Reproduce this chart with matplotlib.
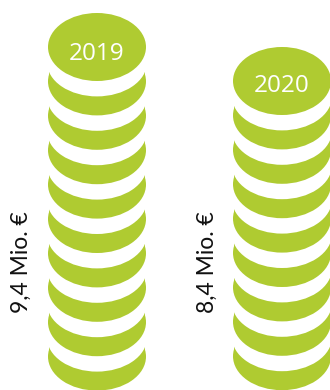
import matplotlib.pyplot as plt
from matplotlib.patches import Ellipse, Rectangle

plt.rcParams["font.family"] = ["Lato", "DejaVu Sans"]

years = ["2019", "2020"]
values = ["9,4 Mio. €", "8,4 Mio. €"]
coins = [10, 9]

green = "#afcb31"
centers = [97, 282]
tops = [47, 81]
year_y = [54, 85.5]
label_x = [21.5, 207]
step = 34.4  # distance between two coins
rx, ry = 49, 34

fig = plt.figure(figsize=(3.3, 3.9), dpi=100)
ax = fig.add_axes([0, 0, 1, 1])
ax.set_xlim(0, 330)
ax.set_ylim(390, 0)
ax.axis("off")

for i in range(len(years)):
    # stack is painted from the lowest coin up, each one hollowed by a white ellipse
    for n in range(coins[i] - 1, -1, -1):
        y = tops[i] + n * step
        ax.add_patch(Ellipse((centers[i], y), rx * 2, ry * 2, color=green, lw=0))
        if n > 0:
            # short straight flank so the coin edge looks like a cylinder
            ax.add_patch(Rectangle((centers[i] - 48, y - 11), 96, 17, color=green, lw=0))
            ax.add_patch(Ellipse((centers[i], y - 19), rx * 2 + 2, ry * 2, color="white", lw=0))
    ax.text(centers[i], year_y[i], years[i], color="white", fontsize=17.5, family="Open Sans", ha="center", va="center")
    ax.text(label_x[i], 262, values[i], color="#111111", fontsize=16.5, rotation=90, ha="center", va="center")

plt.savefig("out.png")
